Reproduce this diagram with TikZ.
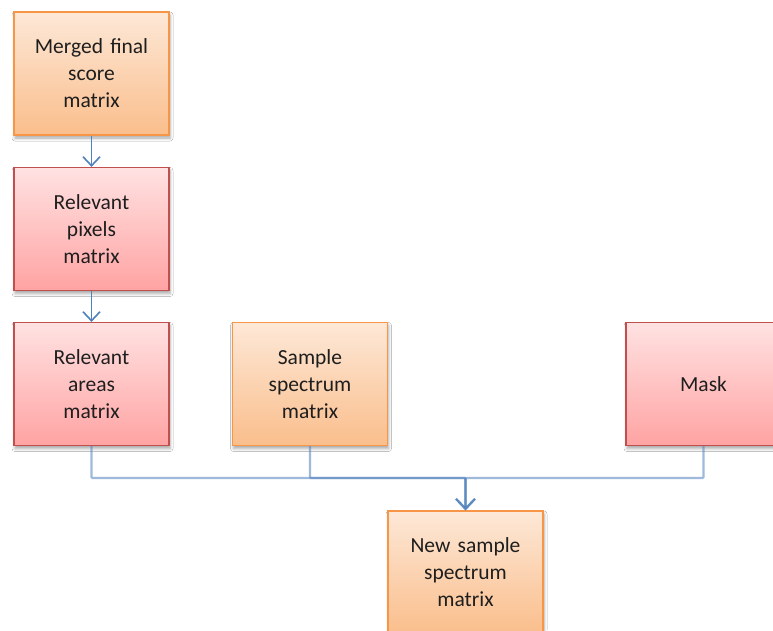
\documentclass[tikz,border=0pt]{standalone}
\usepackage{fontspec}
\setmainfont{Carlito}
\usetikzlibrary{arrows.meta,shadows,shadows.blur,positioning}
\definecolor{orbd}{HTML}{F79646}
\definecolor{ortop}{RGB}{253,232,215}
\definecolor{orbot}{RGB}{250,190,140}
\definecolor{rdbd}{HTML}{C0504D}
\definecolor{rdtop}{RGB}{255,226,226}
\definecolor{rdbot}{RGB}{255,163,163}
\definecolor{lnk}{HTML}{4F81BD}
\definecolor{txt}{RGB}{30,30,30}
\tikzset{
  box/.style={rectangle, minimum width=155pt, minimum height=123pt, inner sep=2pt,
    align=center, text width=135pt, line width=1.2pt, text=txt,
    font=\fontsize{21.5pt}{27pt}\selectfont,
    blur shadow={shadow xshift=1pt, shadow yshift=-3pt, shadow blur radius=3pt, shadow opacity=35}},
  orbox/.style={box, draw=orbd, top color=ortop, bottom color=orbot},
  rdbox/.style={box, draw=rdbd, top color=rdtop, bottom color=rdbot},
  arr/.style={draw=lnk, line width=1.6pt, -{Straight Barb[length=9pt,width=17pt,line width=1.6pt]}},
  joinline/.style={draw=lnk, draw opacity=0.55, line width=2.2pt, rounded corners=1pt,
    -{Straight Barb[length=10pt,width=19pt,line width=2.2pt]}}
}
\begin{document}
\begin{tikzpicture}[x=1pt,y=-1pt]
\clip (0,0) rectangle (773,630);
\fill[white] (0,0) rectangle (773,630);
\node[orbox] (merged) at (91.5,73.5) {Merged final\\score\\matrix};
\node[rdbox] (pixels) at (91.5,229) {Relevant\\pixels\\matrix};
\node[rdbox] (areas) at (91.5,384) {Relevant\\areas\\matrix};
\node[orbox] (sample) at (310,384) {Sample\\spectrum\\matrix};
\node[rdbox] (mask) at (703.5,384) {Mask};
\node[orbox] (new) at (465.5,572.5) {New sample\\spectrum\\matrix};
\coordinate (jy) at (0,478);
\draw[arr] (merged.south) -- (pixels.north);
\draw[arr] (pixels.south) -- (areas.north);
\draw[joinline] (areas.south) |- (new.north |- jy) -- (new.north);
\draw[joinline] (sample.south) |- (new.north |- jy) -- (new.north);
\draw[joinline] (mask.south) |- (new.north |- jy) -- (new.north);
\end{tikzpicture}
\end{document}
